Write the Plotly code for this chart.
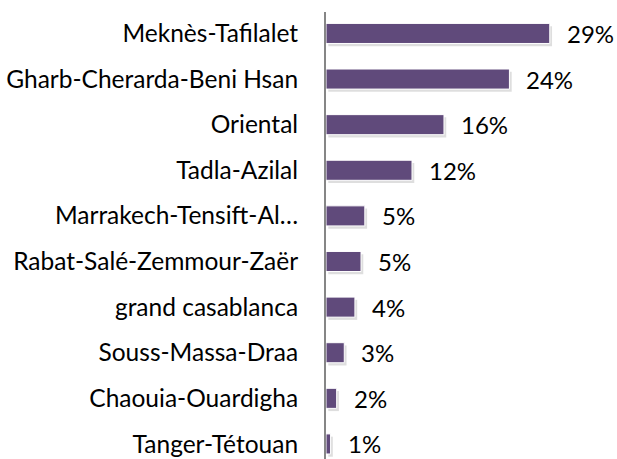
import plotly.graph_objects as go

regions = ["Tanger-Tétouan", "Chaouia-Ouardigha", "Souss-Massa-Draa", "grand casablanca",
           "Rabat-Salé-Zemmour-Zaër", "Marrakech-Tensift-Al…", "Tadla-Azilal", "Oriental",
           "Gharb-Cherarda-Beni Hsan", "Meknès-Tafilalet"]
shares = [0.6, 1.4, 2.4, 3.8, 4.6, 5.1, 11.3, 15.5, 24.1, 29.4]
share_labels = ["1%", "2%", "3%", "4%", "5%", "5%", "12%", "16%", "24%", "29%"]

FONT = "Lato"
FSIZE = 24
TICKSIZE = 24.5
BAR = "#604A7B"

fig = go.Figure()
# soft shadow below-right of each bar
fig.add_trace(go.Bar(
    y=regions, x=shares, orientation="h", base=0.3, width=0.44, offset=-0.28,
    marker=dict(color="rgba(0,0,0,0.13)", line=dict(width=0)),
    hoverinfo="skip", showlegend=False))
fig.add_trace(go.Bar(
    y=regions, x=shares, orientation="h", width=0.44,
    marker=dict(color=BAR, line=dict(color="white", width=1)),
    showlegend=False))

for r, v, t in zip(regions, shares, share_labels):
    fig.add_annotation(x=v, y=r, text=t, xanchor="left", yanchor="middle",
                       xshift=15, showarrow=False,
                       font=dict(family=FONT, size=FSIZE, color="#000000"))

fig.update_layout(
    width=617, height=459,
    margin=dict(l=326, r=17, t=12, b=0, autoexpand=False),
    paper_bgcolor="white", plot_bgcolor="white",
    barmode="overlay", bargap=0.56,
    font=dict(family=FONT, size=FSIZE, color="#000000"),
    xaxis=dict(range=[0, 36.0], visible=False, showgrid=False, zeroline=False,
               automargin=False),
    yaxis=dict(range=[-0.33, 9.47], showgrid=False, zeroline=False,
               showline=True, linecolor="#868686", linewidth=2,
               ticks="", ticklabelstandoff=21, automargin=False,
               tickfont=dict(family=FONT, size=TICKSIZE, color="#000000")),
)

# remove the browser's default 8px page margin so the figure fills the window
fig.write_html("out.html",
               config={"displayModeBar": False},
               post_script="document.body.style.margin='0';"
                           "document.body.style.overflow='hidden';")
